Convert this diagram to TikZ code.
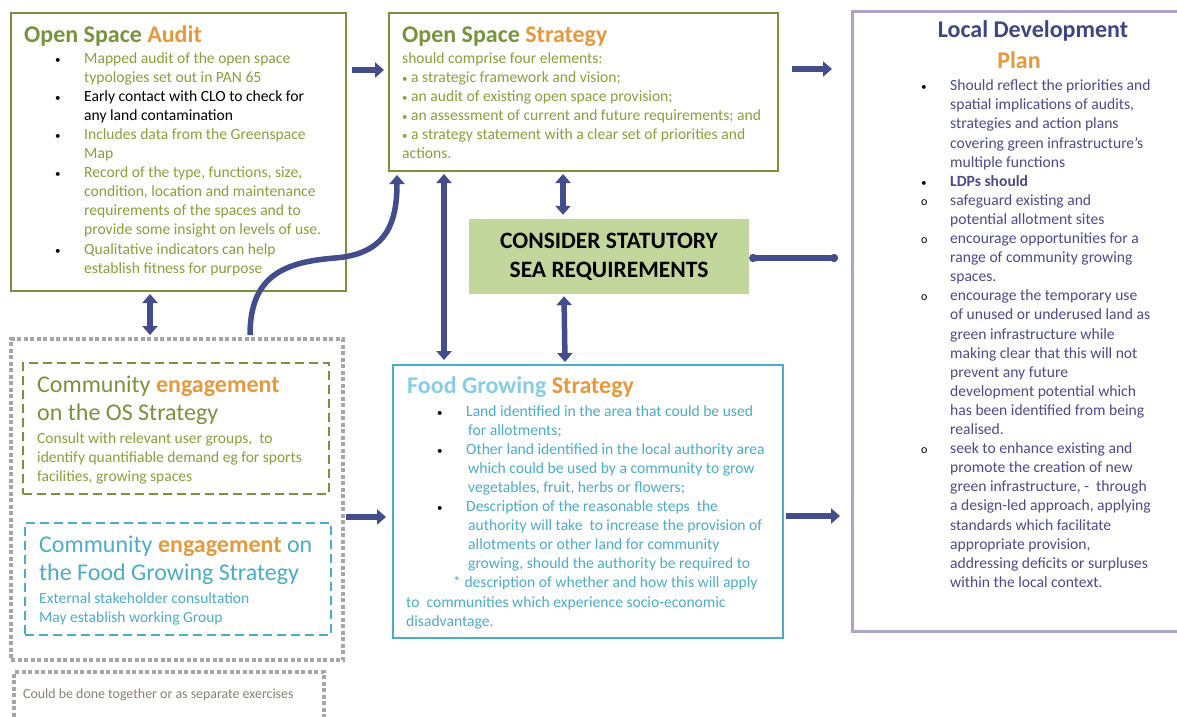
\documentclass[tikz,border=0pt]{standalone}
\usepackage{fontspec}
\setmainfont{Carlito}
\usetikzlibrary{arrows.meta}
\definecolor{osgreen}{HTML}{77933C}
\definecolor{osbody}{HTML}{86A03A}
\definecolor{accent}{HTML}{E5993C}
\definecolor{fgblue}{HTML}{4BACC6}
\definecolor{fgtitle}{HTML}{88CDE3}
\definecolor{ldpblue}{HTML}{3D477F}
\definecolor{ldpbody}{HTML}{4A4B8A}
\definecolor{ldpframe}{HTML}{B3A2C7}
\definecolor{linkblue}{HTML}{434D8C}
\definecolor{seafill}{HTML}{C3D69B}
\definecolor{dotgrey}{HTML}{A6A6A6}
\definecolor{notegrey}{HTML}{8C7E70}
\newcommand{\frm}[4][]{
	\node[draw = #4, line width = 2pt, rectangle, minimum width = #2, minimum height = #3, anchor = north west, inner sep = 0pt, #1]
}
\newcommand{\bl}{\makebox[29pt][l]{\color{black}\fontsize{11}{11}\selectfont\textbullet}}
\newcommand{\ob}{\makebox[29pt][l]{\color{black}\fontsize{12}{12}\selectfont o}}
\newcommand{\ind}[1][29pt]{\hspace*{#1}}
\newcommand{\rows}[1]{\begin{tabular}[t]{@{}l@{}}#1\end{tabular}}
\tikzset{
	txt/.style = {anchor = base west, inner sep = 0pt, font = \fontsize{15.6}{19.1}\selectfont},
	head/.style = {anchor = base west, inner sep = 0pt, font = \fontsize{24}{28}\selectfont\bfseries},
	link/.style = {draw = linkblue, line width = 5.5pt, -{Triangle[length = 9pt, width = 15pt]}},
	twolink/.style = {link, {Triangle[length = 9pt, width = 15pt]}-{Triangle[length = 9pt, width = 15pt]}},
	knoblink/.style = {draw = linkblue, line width = 5.5pt, {Circle[length = 8pt]}-{Circle[length = 8pt]}}
}

\begin{document}
\begin{tikzpicture}[x = 1pt, y = -1pt]
	\useasboundingbox (0,0) rectangle (1177,716);

	\frm{335}{278}{osgreen} (audit) at (10,12) {};
	\frm{389}{158}{osgreen} (strat) at (388,12) {};
	\frm[line width = 3pt]{330}{620}{ldpframe} (ldp) at (851,10) {};
	\frm{390}{273}{fgblue} (fgs) at (392,364) {};
	\frm[line width = 4pt, dash pattern = on 4pt off 2.5pt]{332}{321}{dotgrey} (grp) at (9,337) {};
	\frm[dash pattern = on 9pt off 5pt]{306}{131}{osgreen} (osce) at (22,362) {};
	\frm[dash pattern = on 9pt off 5pt]{306}{112}{fgblue} (fgce) at (24,522) {};
	\frm[line width = 4pt, dash pattern = on 4pt off 2.5pt]{310}{48}{dotgrey} (note) at (12,670) {};
	\node[fill = seafill, minimum width = 280, minimum height = 75, align = center,
		font = \fontsize{23.5}{29}\selectfont\bfseries] (sea) at (609,256.5) {CONSIDER STATUTORY\\SEA REQUIREMENTS};

	\node[head, text = osgreen] (auditt) at (24,42) {Open Space \textcolor{accent}{Audit}};
	\node[txt, text = osbody] (auditb) at (55,63) {\rows{
		\bl Mapped audit of the open space\\
		\ind typologies set out in PAN 65\\
		\bl \textcolor{black}{Early contact with CLO to check for}\\
		\ind \textcolor{black}{any land contamination}\\
		\bl Includes data from the Greenspace\\
		\ind Map\\
		\bl Record of the type, functions, size,\\
		\ind condition, location and maintenance\\
		\ind requirements of the spaces and to\\
		\ind provide some insight on levels of use.\\
		\bl Qualitative indicators can help\\
		\ind establish fitness for purpose}};

	\node[head, text = osgreen] (stratt) at (402,42) {Open Space \textcolor{accent}{Strategy}};
	\node[txt, text = osbody] (stratb) at (402,63) {\rows{
		should comprise four elements:\\
		{\fontsize{11}{11}\selectfont\textbullet} a strategic framework and vision;\\
		{\fontsize{11}{11}\selectfont\textbullet} an audit of existing open space provision;\\
		{\fontsize{11}{11}\selectfont\textbullet} an assessment of current and future requirements; and\\
		{\fontsize{11}{11}\selectfont\textbullet} a strategy statement with a clear set of priorities and\\
		actions.}};

	\node[head, anchor = base, text = ldpblue] (ldpt) at (1033,37) {Local Development};
	\node[head, anchor = base, text = accent] (ldpp) at (1019,68) {Plan};
	\node[txt, text = ldpbody] (ldpb) at (921,90.7) {\rows{
		\bl Should reflect the priorities and\\
		\ind spatial implications of audits,\\
		\ind strategies and action plans\\
		\ind covering green infrastructure's\\
		\ind multiple functions\\
		\bl \textbf{LDPs should}\\
		\ob safeguard existing and\\
		\ind potential allotment sites\\
		\ob encourage opportunities for a\\
		\ind range of community growing\\
		\ind spaces.\\
		\ob encourage the temporary use\\
		\ind of unused or underused land as\\
		\ind green infrastructure while\\
		\ind making clear that this will not\\
		\ind prevent any future\\
		\ind development potential which\\
		\ind has been identified from being\\
		\ind realised.\\
		\ob seek to enhance existing and\\
		\ind promote the creation of new\\
		\ind green infrastructure, -\ \ through\\
		\ind a design-led approach, applying\\
		\ind standards which facilitate\\
		\ind appropriate provision,\\
		\ind addressing deficits or surpluses\\
		\ind within the local context.}};

	\node[head, text = fgtitle] (fgst) at (407,393) {Food Growing \textcolor{accent}{Strategy}};
	\node[txt, text = fgblue] (fgsb) at (406,416) {\rows{
		\ind[31pt]\bl Land identified in the area that could be used\\
		\ind[62pt]for allotments;\\
		\ind[31pt]\bl Other land identified in the local authority area\\
		\ind[62pt]which could be used by a community to grow\\
		\ind[62pt]vegetables, fruit, herbs or flowers;\\
		\ind[31pt]\bl Description of the reasonable steps\ \ the\\
		\ind[62pt]authority will take\ \ to increase the provision of\\
		\ind[62pt]allotments or other land for community\\
		\ind[62pt]growing, should the authority be required to\\
		\ind[47pt]* description of whether and how this will apply\\
		to\ \ communities which experience socio-economic\\
		disadvantage.}};

	\node[txt, text = osgreen, font = \fontsize{24}{28}\selectfont] (oscet) at (37,392) {\rows{
		Community \textcolor{accent}{\bfseries engagement}\\
		on the OS Strategy}};
	\node[txt, text = osbody, font = \fontsize{15.5}{19}\selectfont] (osceb) at (37,443) {\rows{
		Consult with relevant user groups,\ \ to\\
		identify quantifiable demand eg for sports\\
		facilities, growing spaces}};

	\node[txt, text = fgblue, font = \fontsize{24}{28}\selectfont] (fgcet) at (39,552) {\rows{
		Community \textcolor{accent}{\bfseries engagement} on\\
		the Food Growing Strategy}};
	\node[txt, text = fgblue, font = \fontsize{15.5}{19}\selectfont] (fgceb) at (39,603) {\rows{
		External stakeholder consultation\\
		May establish working Group}};

	\node[txt, text = notegrey, font = \fontsize{13.9}{16}\selectfont] (notet) at (23,698) {Could be done together or as separate exercises};

	\draw[link] ([xshift = 5, yshift = -58]audit.north east) -- ([xshift = -4, yshift = -58]strat.north west);
	\draw[link] ([xshift = 13, yshift = -57]strat.north east) -- ([xshift = -19, yshift = -59]ldp.north west);
	\draw[link] ([xshift = 1, yshift = -180]grp.north east) -- ([xshift = -6, yshift = -153]fgs.north west);
	\draw[link] ([xshift = 2, yshift = -152]fgs.north east) -- ([xshift = -11, yshift = -506]ldp.north west);
	\draw[twolink] ([xshift = 175, yshift = -2]strat.south west) -- ([xshift = -46, yshift = 4]sea.north);
	\draw[twolink] ([xshift = -45, yshift = -2]sea.south) -- ([xshift = -23, yshift = 2]fgs.north);
	\draw[twolink] ([xshift = 56, yshift = -2]strat.south west) -- ([xshift = 52, yshift = 4]fgs.north west);
	\draw[twolink] ([xshift = 140, yshift = -2]audit.south west) -- ([xshift = 141, yshift = 2]grp.north west);
	\draw[knoblink] ([yshift = -1.5]sea.east) -- ([xshift = -13, yshift = -248]ldp.north west);
	\draw[link] ([xshift = 241, yshift = 2]grp.north west) .. controls (250,275) and (285,262) .. (335,258)
		.. controls (385,254) and (397,225) .. ([xshift = 9, yshift = -3]strat.south west);
\end{tikzpicture}
\end{document}
